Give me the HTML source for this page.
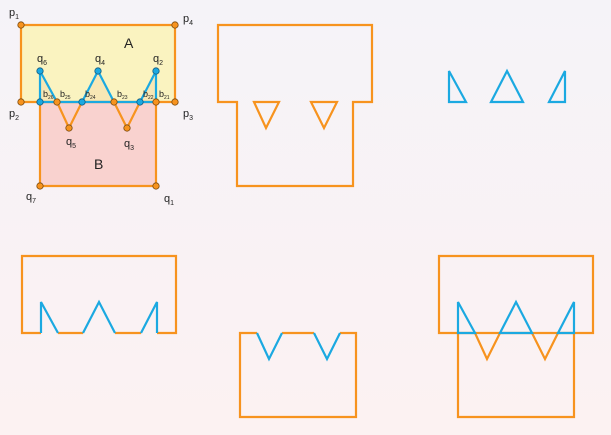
<!DOCTYPE html>
<html><head><meta charset="utf-8"><style>
html,body{margin:0;padding:0;width:611px;height:435px;overflow:hidden;background:linear-gradient(#f5f3f8,#fcf2f2);}
svg{display:block}
text{font-family:"Liberation Sans","DejaVu Sans",sans-serif;fill:#222}
</style></head><body>
<svg id="s" width="611" height="435"></svg>
<script>
const O='#f7931e',Bc='#1ba9e1';
const rectA=[[21,25],[175,25],[175,102],[21,102]];
const rectB=[[40,102],[156,102],[156,186],[40,186]];
const teethUp=[[[40,102],[40,71],[57,102]],[[82,102],[98,71],[114,102]],[[140,102],[156,71],[156,102]]];
const teethDown=[[[57,102],[69,128],[82,102]],[[114,102],[127,128],[140,102]]];
const bX=[156,140,114,82,57,40];
const s=document.getElementById('s');
const NS='http://www.w3.org/2000/svg';
function el(t,a,name){const e=document.createElementNS(NS,t);for(const k in a)e.setAttribute(k,a[k]);


s.appendChild(e);return e;}
function pts(p,dx,dy){return p.map(q=>(q[0]+dx)+','+(q[1]+dy)).join(' ');}
function poly(p,dx,dy,fill,stroke,name,closed=true){return el(closed?'polygon':'polyline',{points:pts(p,dx,dy),fill:fill,stroke:stroke,'stroke-width':2.2,'stroke-linejoin':'miter'},name);}
// Figure 1
poly(rectA,0,0,'#faf3c0','none','region-a');
poly(rectB,0,0,'#f9d2cf','none','region-b');
teethUp.forEach((t,i)=>poly(t,0,0,'#f7e7b5','none','overlap-'+i));
poly(rectA,0,0,'none',O,'polygon-a-outline');
poly([[40,102],[40,186],[156,186],[156,102]],0,0,'none',O,'polygon-b-sides',false);
teethDown.forEach((t,i)=>poly(t,0,0,'none',O,'notch-'+i,false));
el('line',{x1:40,y1:102,x2:156,y2:102,stroke:Bc,'stroke-width':2.2},'shared-edge');
teethUp.forEach((t,i)=>poly(t,0,0,'none',Bc,'tooth-'+i,false));
const orangeDots=[[21,25],[175,25],[21,102],[175,102],[57,102],[114,102],[69,128],[127,128],[40,186],[156,186],[156,102]];
const blueDots=[[40,71],[98,71],[156,71],[40,102],[82,102],[140,102]];
orangeDots.forEach(d=>el('circle',{cx:d[0],cy:d[1],r:3.2,fill:O,stroke:'#7a4a10','stroke-width':0.8},'vertex'));
blueDots.forEach(d=>el('circle',{cx:d[0],cy:d[1],r:3.2,fill:Bc,stroke:'#145a80','stroke-width':0.8},'vertex'));
const labels=[['p',1,9,16],['p',4,183,22],['p',2,9,117],['p',3,183,117],['q',6,37,62],['q',4,95,62],['q',2,153,62],['q',5,66,145],['q',3,124,147],['q',7,26,200],['q',1,164,202]];
labels.forEach(l=>{const t=el('text',{x:l[2],y:l[3],'font-size':11},'label-'+l[0]+l[1]);t.innerHTML=l[0]+'<tspan font-size="7" dy="3">'+l[1]+'</tspan>';});
bX.forEach((x,i)=>{const t=el('text',{x:x+3,y:97,'font-size':9},'label-b2'+(i+1));t.innerHTML='b<tspan font-size="5" dy="2">2'+(i+1)+'</tspan>';});
const ta=el('text',{x:124,y:48,'font-size':14},'label-a');ta.textContent='A';
const tb=el('text',{x:94,y:169,'font-size':14},'label-b');tb.textContent='B';
// Figure 2: union outline
poly([[21,25],[175,25],[175,102],[156,102],[156,186],[40,186],[40,102],[21,102]],197,0,'none',O,'union-outline');
teethDown.forEach((t,i)=>poly(t,197,0,'none',O,'union-notch-'+i));
// Figure 3: blue triangles
teethUp.forEach((t,i)=>poly(t,409,0,'none',Bc,'intersection-triangle-'+i));
// Figure 4: A minus B
poly([[57,102],[82,102]],1,231,'none',O,'diff-edge-1',false);
poly([[114,102],[140,102]],1,231,'none',O,'diff-edge-2',false);
poly([[40,102],[21,102],[21,25],[175,25],[175,102],[156,102]],1,231,'none',O,'diff-a-outline',false);
teethUp.forEach((t,i)=>poly(t,1,231,'none',Bc,'diff-a-tooth-'+i,false));
// Figure 5: B minus A
poly([[57,102],[40,102],[40,186],[156,186],[156,102],[140,102]],200,231,'none',O,'diff-b-outline',false);
poly([[82,102],[114,102]],200,231,'none',O,'diff-b-edge',false);
teethDown.forEach((t,i)=>poly(t,200,231,'none',Bc,'diff-b-notch-'+i,false));
// Figure 6: combined
poly(rectA,418,231,'none',O,'combined-a');
poly([[40,102],[40,186],[156,186],[156,102]],418,231,'none',O,'combined-b',false);
teethDown.forEach((t,i)=>poly(t,418,231,'none',O,'combined-notch-'+i,false));
teethUp.forEach((t,i)=>poly(t,418,231,'none',Bc,'combined-tooth-'+i));
</script>
</body></html>
